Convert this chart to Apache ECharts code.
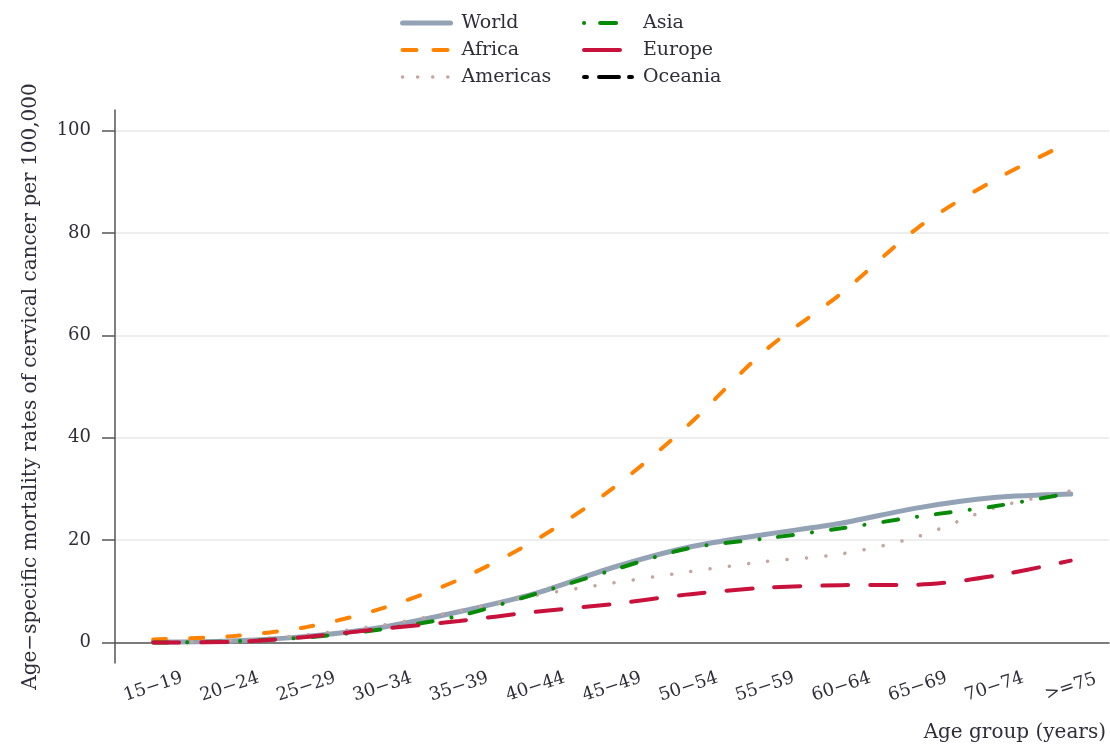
<!DOCTYPE html>
<html>
<head>
<meta charset="utf-8">
<script src="https://cdn.jsdelivr.net/npm/echarts@6/dist/echarts.min.js"></script>
<style>
  html, body { margin: 0; padding: 0; background: #ffffff; }
  #chart { width: 1110px; height: 749px; }
</style>
</head>
<body>
<div id="chart"></div>
<script>
// Age groups along the x axis
const ageGroups = ['15−19', '20−24', '25−29', '30−34', '35−39', '40−44', '45−49',
                   '50−54', '55−59', '60−64', '65−69', '70−74', '>=75'];

// Mortality rates per 100,000 by region
const world    = [0.1, 0.3, 1.2, 3.0, 6.0, 9.6, 14.6, 18.6, 21.1, 23.3, 26.3, 28.3, 29.0];
const africa   = [0.6, 1.2, 3.0, 6.7, 12.3, 20.0, 30.0, 42.5, 57.0, 68.2, 81.0, 90.3, 97.8];
const americas = [0.1, 0.4, 1.5, 3.4, 6.2, 9.2, 11.6, 13.8, 15.8, 17.3, 20.7, 26.3, 29.6];
const asia     = [0.0, 0.2, 1.0, 2.6, 5.2, 9.5, 14.1, 18.4, 20.3, 22.3, 24.6, 26.6, 29.2];
const europe   = [0.0, 0.1, 1.1, 2.7, 4.2, 6.0, 7.5, 9.4, 10.7, 11.2, 11.3, 13.0, 16.0];
const oceania  = [];

// Tick values on the y axis
const yTicks = [0, 20, 40, 60, 80, 100];

const FONT = 'DejaVu Serif';
const TEXT = '#2e2e3a';
const AXIS = '#555555';

// Line look for each region
const styles = {
  World:    { color: '#93a3b5', width: 5,   type: 'solid' },
  Africa:   { color: '#ff8200', width: 4,   type: [13, 24] },
  Americas: { color: '#c4a5a0', width: 3.5, type: [0.1, 19.3] },
  Asia:     { color: '#078a07', width: 4,   type: [15, 19, 0.1, 19] },
  Europe:   { color: '#c8123c', width: 4,   type: [26, 22] },
  Oceania:  { color: '#000000', width: 4,   type: [3, 10, 16, 10] }
};
// Dash patterns for the short legend keys
const legendDash = {
  World: 'solid', Africa: [14, 17], Americas: [0.1, 15],
  Asia: [0.1, 16, 16, 20], Europe: [36, 20], Oceania: [3, 12, 20, 10]
};

function line(name, data) {
  const s = styles[name];
  return {
    name: name,
    type: 'line',
    data: data,
    smooth: 0.3,
    symbol: 'none',
    showSymbol: false,
    lineStyle: { color: s.color, width: s.width, type: s.type, cap: 'round' },
    itemStyle: { color: s.color },
    emphasis: { disabled: true }
  };
}

function legendItem(name) {
  const s = styles[name];
  return {
    name: name,
    itemStyle: { opacity: 0 },
    lineStyle: { color: s.color, width: s.width, type: legendDash[name], cap: 'round' }
  };
}

function legendCol(left, names) {
  return {
    orient: 'vertical',
    left: left,
    top: 8,
    itemWidth: 48,
    itemHeight: 14,
    itemGap: 7,
    data: names.map(legendItem),
    textStyle: { fontFamily: FONT, fontSize: 19, color: TEXT, lineHeight: 20, padding: [0, 0, 0, 6] }
  };
}

const chart = echarts.init(document.getElementById('chart'), null, { renderer: 'canvas' });

chart.setOption({
  animation: false,
  backgroundColor: '#ffffff',
  textStyle: { fontFamily: FONT },
  title: {
    text: 'Age group (years)',
    right: 4,
    top: 723,
    padding: 0,
    textStyle: { fontFamily: FONT, fontSize: 20, fontWeight: 'normal', color: TEXT }
  },
  legend: [
    legendCol(395, ['World', 'Africa', 'Americas']),
    legendCol(577, ['Asia', 'Europe', 'Oceania'])
  ],
  grid: { left: 115, right: 1, top: 110, bottom: 86, containLabel: false, outerBoundsMode: 'none' },
  xAxis: {
    type: 'category',
    data: ageGroups,
    boundaryGap: true,
    axisLine: { lineStyle: { color: AXIS, width: 1.5 } },
    axisTick: { alignWithLabel: true, length: 12, lineStyle: { color: AXIS, width: 1.5 } },
    axisLabel: {
      rotate: 18, align: 'center', verticalAlign: 'middle', margin: 24,
      fontFamily: FONT, fontSize: 18, color: TEXT, interval: 0
    },
    splitLine: { show: false }
  },
  yAxis: {
    type: 'value',
    min: -4,
    max: 104,
    name: 'Age−specific mortality rates of cervical cancer per 100,000',
    nameLocation: 'middle',
    nameGap: 74,
    nameTextStyle: { fontFamily: FONT, fontSize: 20, color: TEXT },
    axisLine: { show: true, lineStyle: { color: AXIS, width: 1.5 } },
    axisTick: { show: true, length: 13, customValues: yTicks, lineStyle: { color: AXIS, width: 1.5 } },
    axisLabel: { customValues: yTicks, margin: 24, fontFamily: FONT, fontSize: 18, color: TEXT },
    splitLine: { show: true, lineStyle: { color: '#e8e8e8', width: 1.5 } }
  },
  series: [
    line('World', world),
    line('Africa', africa),
    line('Americas', americas),
    line('Asia', asia),
    line('Europe', europe),
    line('Oceania', oceania)
  ]
});
</script>
</body>
</html>
